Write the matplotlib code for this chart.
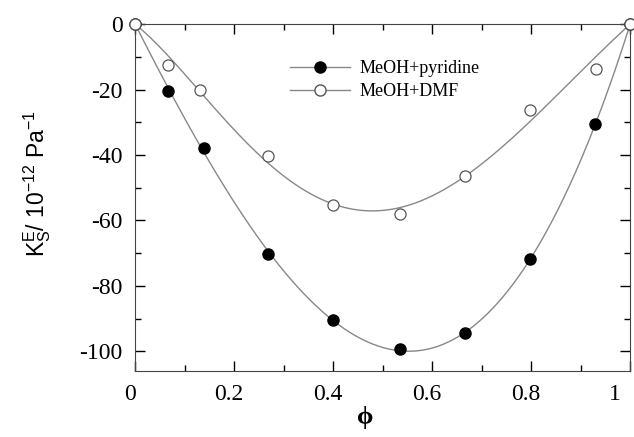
import matplotlib
matplotlib.use("Agg")
import matplotlib.pyplot as plt
from matplotlib.ticker import MultipleLocator, FuncFormatter
from matplotlib.transforms import ScaledTranslation
import numpy as np

plt.rcParams["font.family"] = ["Liberation Serif", "DejaVu Serif"]
plt.rcParams["axes.unicode_minus"] = False
plt.rcParams["mathtext.fontset"] = "custom"
plt.rcParams["mathtext.rm"] = "Liberation Sans"
plt.rcParams["mathtext.it"] = "Liberation Sans"

# data
phi_pyr = [0.0, 0.067, 0.139, 0.269, 0.400, 0.535, 0.667, 0.798, 0.929, 1.0]
ks_pyr = [0.0, -20.5, -37.9, -70.3, -90.5, -99.3, -94.5, -71.9, -30.6, 0.0]
phi_dmf = [0.0, 0.067, 0.131, 0.269, 0.400, 0.535, 0.667, 0.798, 0.931, 1.0]
ks_dmf = [0.0, -12.5, -20.0, -40.4, -55.4, -58.1, -46.5, -26.3, -13.8, 0.0]
labels = ["MeOH+pyridine", "MeOH+DMF"]


def rk_fit(x, y, n=4):
    # Redlich-Kister type least squares fit through the points
    x = np.array(x)
    y = np.array(y)
    A = np.array([x * (1 - x) * (2 * x - 1) ** k for k in range(n)]).T
    coef = np.linalg.lstsq(A, y, rcond=None)[0]
    xs = np.linspace(0, 1, 300)
    ys = sum(c * xs * (1 - xs) * (2 * xs - 1) ** k for k, c in enumerate(coef))
    return xs, ys


fig = plt.figure(figsize=(6.34, 4.37), dpi=100)
ax = fig.add_axes([0.213, 0.151, 0.781, 0.794])

xs, ys = rk_fit(phi_pyr, ks_pyr)
ax.plot(xs, ys, color="#888888", lw=1.0)
xs, ys = rk_fit(phi_dmf, ks_dmf)
ax.plot(xs, ys, color="#888888", lw=1.0)
ax.plot(phi_pyr, ks_pyr, "o", color="black", ms=8, clip_on=False, zorder=5)
ax.plot(phi_dmf, ks_dmf, "o", mfc="white", mec="#555555", ms=8, mew=0.9, clip_on=False, zorder=5)

# legend drawn as line + marker
ax.plot([], [], "-o", color="#888888", mfc="black", mec="black", ms=8, lw=1.0, label=labels[0])
ax.plot([], [], "-o", color="#888888", mfc="white", mec="#555555", ms=8, lw=1.0, label=labels[1])
h, l = ax.get_legend_handles_labels()
ax.legend(h[-2:], l[-2:], loc="upper left", bbox_to_anchor=(0.313, 0.896), frameon=False,
          prop={"family": "Liberation Serif", "size": 13}, handlelength=3.3,
          labelspacing=0.33, handletextpad=0.55, borderpad=0, borderaxespad=0)

ax.set_xlim(0, 1)
ax.set_ylim(-106, 0)
ax.xaxis.set_major_locator(MultipleLocator(0.2))
ax.xaxis.set_minor_locator(MultipleLocator(0.1))
ax.yaxis.set_major_locator(MultipleLocator(20))
ax.yaxis.set_minor_locator(MultipleLocator(10))
ax.xaxis.set_major_formatter(FuncFormatter(lambda v, p: "%g" % round(v, 1)))
ax.yaxis.set_major_formatter(FuncFormatter(lambda v, p: "%d" % round(v)))
ax.tick_params(which="both", direction="in", top=True, right=True, width=1.0)
ax.tick_params(which="major", length=7, labelsize=17, pad=9)
ax.tick_params(which="minor", length=4)
for s in ax.spines.values():
    s.set_color("#444444")

# x tick labels sit a little left of their ticks in the original
fig.canvas.draw()
for t in ax.get_xticklabels():
    shift = -15 if t.get_text() == "1" else -5
    t.set_transform(t.get_transform() + ScaledTranslation(shift / 100, 0, fig.dpi_scale_trans))

ax.set_xlabel("ϕ", fontsize=19, fontweight="bold")
ax.xaxis.set_label_coords(0.465, -0.1)
ax.set_ylabel(r"K$_\mathrm{S}^\mathrm{E}$/ 10$^{-12}$ Pa$^{-1}$", fontsize=16.5,
              family="Liberation Sans")
ax.yaxis.set_label_coords(-0.165, 0.54)

fig.savefig("out.png", dpi=100)
